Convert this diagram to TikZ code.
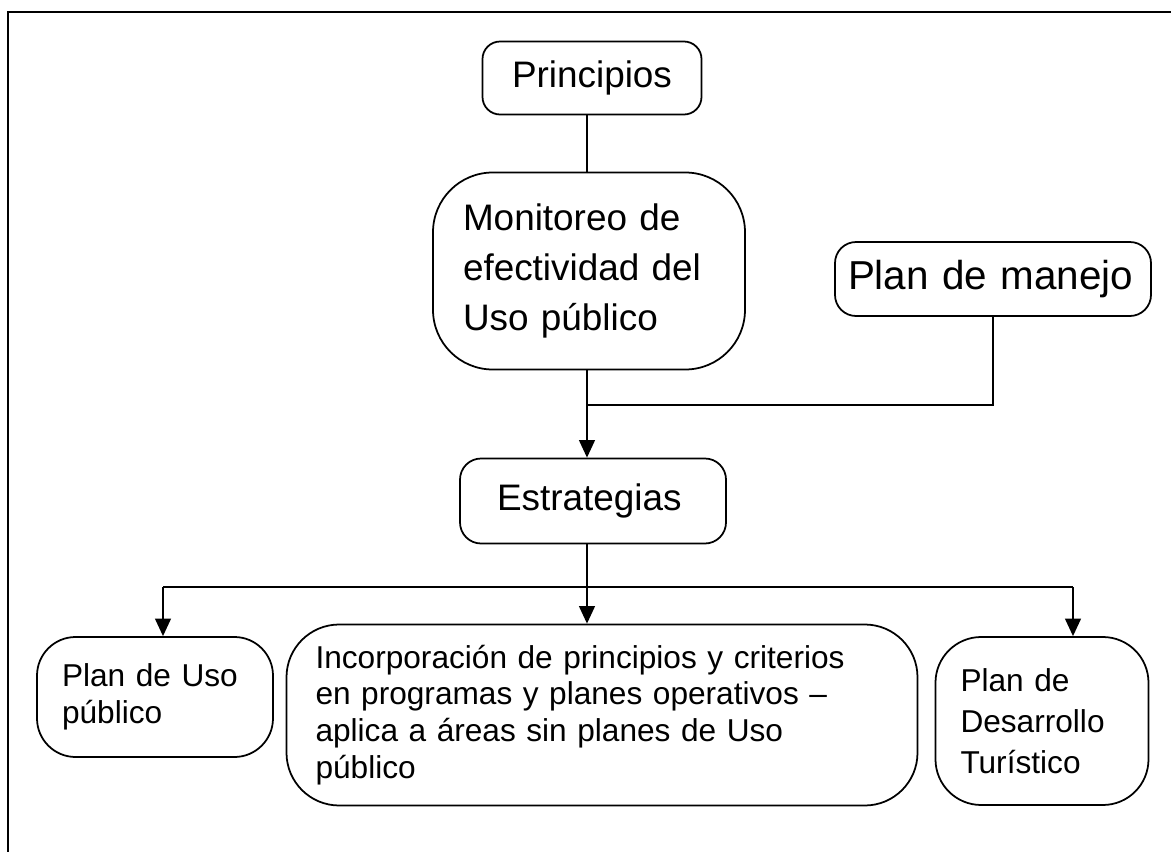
\documentclass[tikz,border=0pt]{standalone}
\usepackage{fontspec}
\setmainfont{Liberation Sans}
\usetikzlibrary{arrows.meta}

\tikzset{
    caja/.style={draw, line width=1pt, align=left, inner sep=0pt},
    big/.style={font=\fontsize{21}{28.5}\selectfont},
    small/.style={font=\fontsize{18}{21}\selectfont},
    flecha/.style={line width=1.1pt, -{Triangle[width=9pt,length=10pt]}}
}

\begin{document}
\begin{tikzpicture}[x=0.02cm, y=-0.02cm, line width=0.8pt]
    \useasboundingbox (0,0) rectangle (1171,852);
    \draw[line width=1.3pt] (8,12) rectangle (1200,900);

    % cajas de arriba
    \node (prin) at (592,78)[caja, big, rounded corners=10, minimum width=219*0.02cm, minimum height=73*0.02cm, align=center]{Principios};
    \node (mon) at (589,271)[caja, big, rounded corners=34, minimum width=312*0.02cm, minimum height=197*0.02cm, text width=252*0.02cm]{Monitoreo de\\efectividad del\\Uso público};
    \node (plan) at (993,279)[caja, font=\fontsize{23}{28}\selectfont, rounded corners=12, minimum width=316*0.02cm, minimum height=74*0.02cm, text width=290*0.02cm]{Plan de manejo};
    \node (est) at (593,501)[caja, big, rounded corners=12, minimum width=266*0.02cm, minimum height=85*0.02cm, text width=220*0.02cm]{\hspace*{8pt}Estrategias};

    % cajas de abajo
    \node (uso) at (155,697)[caja, small, rounded corners=22, minimum width=236*0.02cm, minimum height=120*0.02cm, text width=186*0.02cm]{Plan de Uso\\público};
    \node (inc) at (602,715)[caja, small, rounded corners=30, minimum width=631*0.02cm, minimum height=181*0.02cm, text width=573*0.02cm]{Incorporación de principios y criterios\\en programas y planes operativos –\\aplica a áreas sin planes de Uso\\público};
    \node (tur) at (1042,721)[caja, font=\fontsize{18}{23.5}\selectfont, rounded corners=26, minimum width=213*0.02cm, minimum height=168*0.02cm, text width=163*0.02cm]{Plan de\\Desarrollo\\Turístico};

    \coordinate (j1) at (587,405);
    \coordinate (j2) at (587,587);
    \coordinate (bl) at (163,587);
    \coordinate (br) at (1073,587);

    \draw (j1 |- prin.south) -- (j1 |- mon.north);
    \draw (plan.south) |- (j1);
    \draw[flecha] (j1 |- mon.south) -- (j1 |- est.north);
    \draw (j1 |- est.south) -- (j2);
    \draw (bl) -- (br);
    \foreach \c/\b in {bl/uso, j2/inc, br/tur}{
    \draw[flecha] (\c) -- (\c |- \b.north);
    }
\end{tikzpicture}
\end{document}
